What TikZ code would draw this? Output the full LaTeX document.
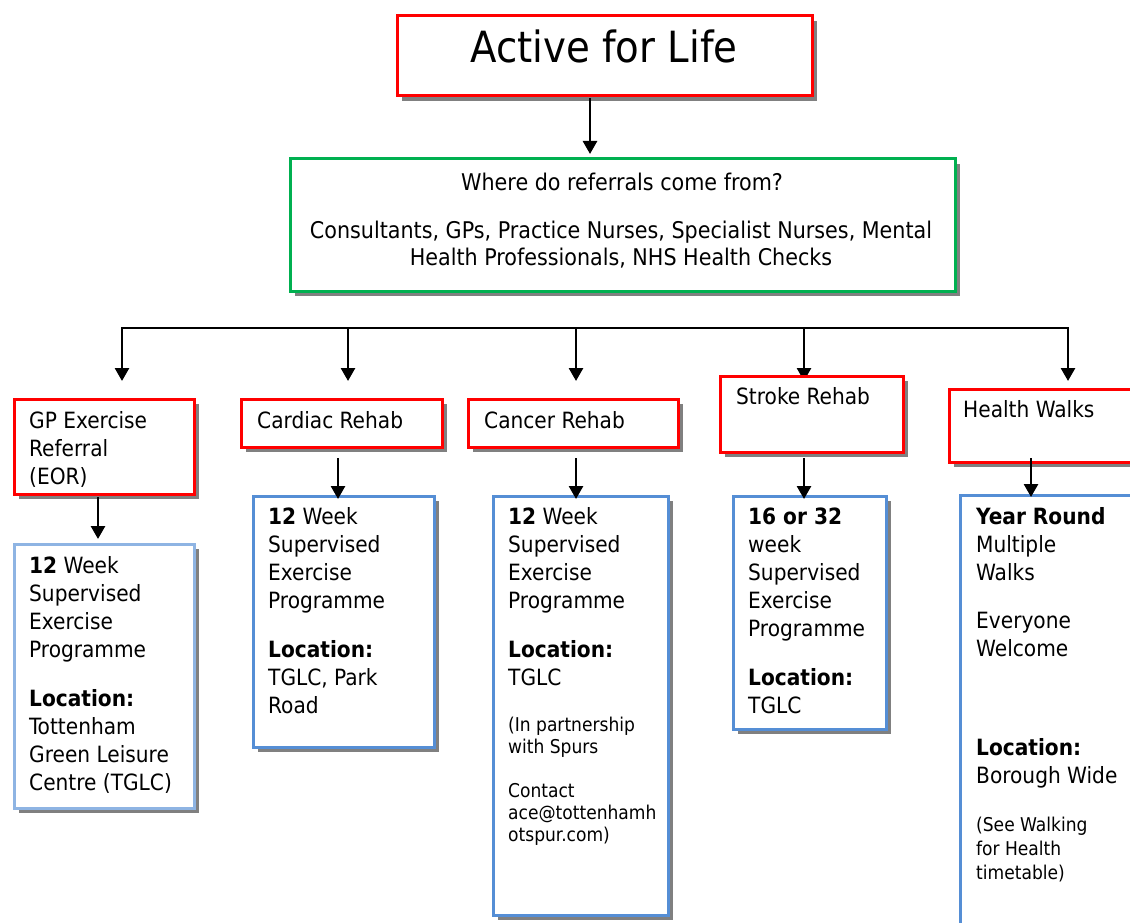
\documentclass[tikz,border=0pt]{standalone}
\usepackage{fontspec}
\setmainfont{DejaVu Sans Condensed}
\usetikzlibrary{arrows.meta,shadows}
\definecolor{bred}{HTML}{FF0000}
\definecolor{bgreen}{HTML}{00B050}
\definecolor{bblue}{HTML}{558ED5}
\definecolor{lblue}{HTML}{8EB4E3}
\definecolor{shade}{HTML}{808080}
\newcommand\fl{\rule{0pt}{20pt}}
\newcommand\fs{\rule{0pt}{16pt}}
\begin{document}
\begin{tikzpicture}[x=1pt,y=-1pt,
  box/.style={draw, line width=3pt, fill=white, inner sep=0pt, outer sep=0pt, anchor=north west,
    drop shadow={shadow xshift=5pt, shadow yshift=-5pt, fill=shade, opacity=1}},
  redbox/.style={box, draw=bred},
  greenbox/.style={box, draw=bgreen},
  bluebox/.style={box, draw=bblue},
  lbluebox/.style={box, draw=lblue},
  txt/.style={anchor=north west, inner sep=0pt, align=left, font=\fontsize{22.4}{28}\selectfont},
  small/.style={anchor=north west, inner sep=0pt, align=left, font=\fontsize{19}{22}\selectfont},
  arr/.style={line width=2.7pt, -{Triangle[width=14pt,length=13pt]}},
  line/.style={line width=2.7pt}]
\useasboundingbox (0,0) rectangle (1130,923);
\fill[white] (0,0) rectangle (1130,923);

% title
\node[redbox, minimum width=415pt, minimum height=80pt] (title) at (397,16) {};
\node[anchor=base, inner sep=0pt, font=\fontsize{43}{50}\selectfont] (titlet) at (604,63) {Active for Life};

% green box
\node[greenbox, minimum width=665pt, minimum height=132pt] (src) at (290,159) {};
\node[anchor=base, inner sep=0pt, font=\fontsize{23}{27}\selectfont] (srct1) at (622,190) {Where do referrals come from?};
\node[anchor=north, inner sep=0pt, align=center, font=\fontsize{23}{27}\selectfont] (srct2) at (621,220) {\rule{0pt}{18pt}Consultants, GPs, Practice Nurses, Specialist Nurses, Mental\\Health Professionals, NHS Health Checks};

% connectors top
\coordinate (a0s) at (590,98);
\coordinate (a0e) at (590,154);
\draw[arr] (a0s) -- (a0e);

\coordinate (hl) at (121,328);
\coordinate (hr) at (1069,328);
\draw[line] (hl) -- (hr);
\foreach \n/\x in {1/122,2/348,3/576,4/804,5/1068}{
  \coordinate (b\n) at (\x,327);
  \coordinate (t\n) at (\x,381);
  \draw[arr] (b\n) -- (t\n);
}

% red boxes
\node[redbox, minimum width=180pt, minimum height=95pt] (gp) at (14,399) {};
\node[txt] (gpt) at (29,408) {\fl GP Exercise\\Referral\\(EOR)};
\node[redbox, minimum width=201pt, minimum height=48pt] (card) at (241,399) {};
\node[txt] (cardt) at (257,408) {\fl Cardiac Rehab};
\node[redbox, minimum width=210pt, minimum height=48pt] (canc) at (468,399) {};
\node[txt] (canct) at (484,408) {\fl Cancer Rehab};
\node[redbox, minimum width=183pt, minimum height=76pt] (strk) at (720,376) {};
\node[txt] (strkt) at (736,384) {\fl Stroke Rehab};
\node[redbox, minimum width=200pt, minimum height=73pt] (walk) at (949,389) {};
\node[txt] (walkt) at (963,397) {\fl Health Walks};

% connectors red -> blue
\coordinate (c1s) at (98,497);  \coordinate (c1e) at (98,539);
\coordinate (c2s) at (338,458); \coordinate (c2e) at (338,499);
\coordinate (c3s) at (576,458); \coordinate (c3e) at (576,499);
\coordinate (c4s) at (804,458); \coordinate (c4e) at (804,499);
\coordinate (c5s) at (1031,458); \coordinate (c5e) at (1031,497);

% blue boxes
\node[lbluebox, minimum width=180pt, minimum height=264pt] (gpb) at (14,544) {};
\node[txt] (gpbt) at (29,553) {\fl\textbf{12} Week\\Supervised\\Exercise\\Programme\\[21pt]\textbf{Location:}\\Tottenham\\Green Leisure\\Centre (TGLC)};

\node[bluebox, minimum width=181pt, minimum height=251pt] (cardb) at (253,496) {};
\node[txt] (cardbt) at (268,504) {\fl\textbf{12} Week\\Supervised\\Exercise\\Programme\\[21pt]\textbf{Location:}\\TGLC, Park\\Road};

\node[bluebox, minimum width=175pt, minimum height=419pt] (cancb) at (493,496) {};
\node[txt] (cancbt) at (508,504) {\fl\textbf{12} Week\\Supervised\\Exercise\\Programme\\[21pt]\textbf{Location:}\\TGLC};
\node[small] (cancbs1) at (508,715) {\fs(In partnership\\with Spurs};
\node[small] (cancbs2) at (508,781) {\fs Contact\\ace@tottenhamh\\otspur.com)};

\node[bluebox, minimum width=153pt, minimum height=233pt] (strkb) at (733,496) {};
\node[txt] (strkbt) at (748,504) {\fl\textbf{16 or 32}\\week\\Supervised\\Exercise\\Programme\\[21pt]\textbf{Location:}\\TGLC};

\node[bluebox, minimum width=200pt, minimum height=450pt] (walkb) at (960,495) {};
\node[txt] (walkbt1) at (976,504) {\fl\textbf{Year Round}\\Multiple\\Walks\\[20pt]Everyone\\Welcome};
\node[txt] (walkbt2) at (976,735) {\fl\textbf{Location:}\\Borough Wide};
\node[small, font=\fontsize{19}{24}\selectfont] (walkbs) at (976,815) {\fs(See Walking\\for Health\\timetable)};

\draw[arr] (c1s) -- (c1e);
\draw[arr] (c2s) -- (c2e);
\draw[arr] (c3s) -- (c3e);
\draw[arr] (c4s) -- (c4e);
\draw[arr] (c5s) -- (c5e);
\end{tikzpicture}
\end{document}
